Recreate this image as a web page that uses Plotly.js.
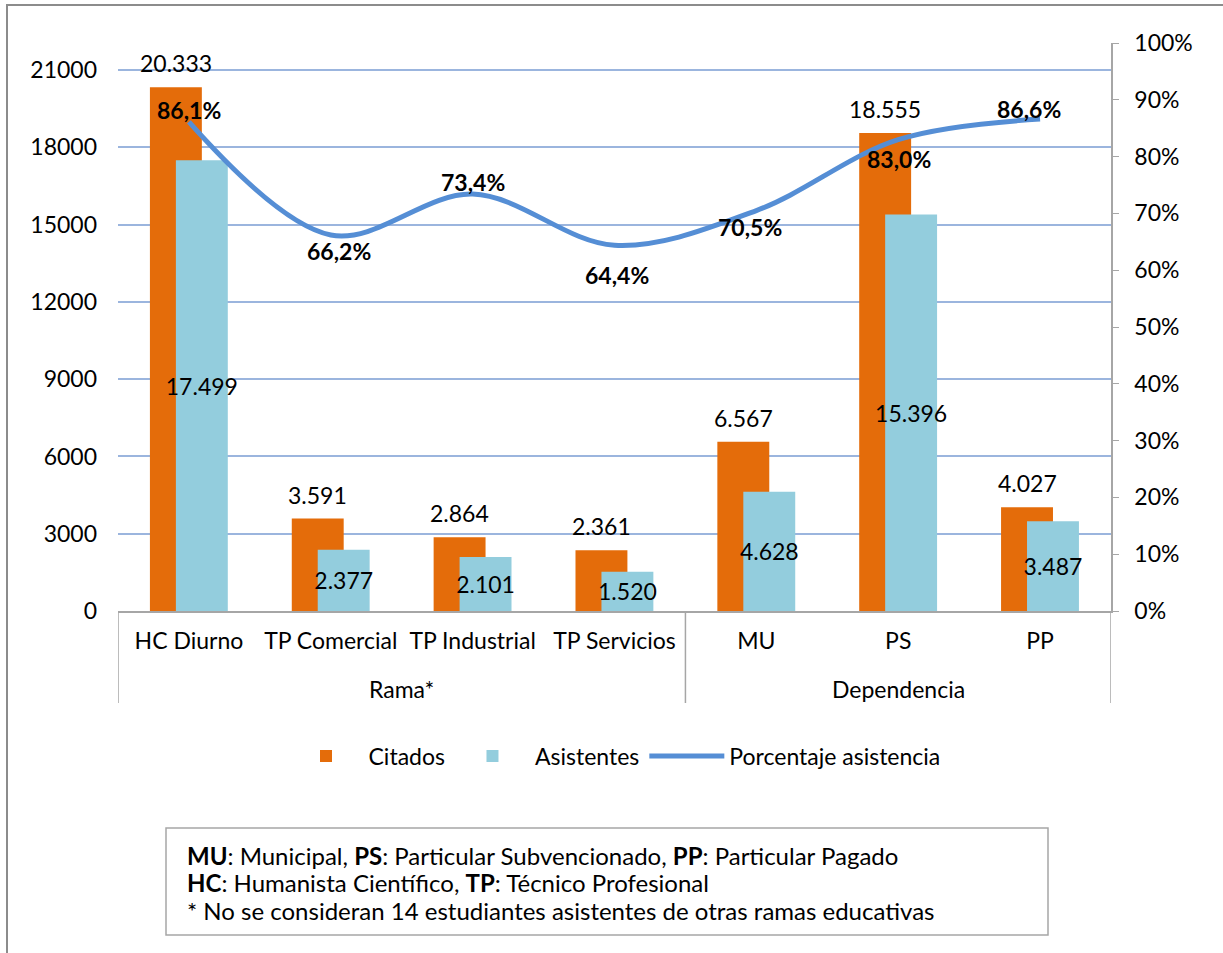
<!DOCTYPE html>
<html>
<head>
<meta charset="utf-8">
<script src="https://cdn.plot.ly/plotly-3.0.1.min.js"></script>
<style>
  html, body { margin: 0; padding: 0; background: #fff; }
  #chart { width: 1223px; height: 953px; }
</style>
</head>
<body>
<div id="chart"></div>
<script>
const categories = ['HC Diurno', 'TP Comercial', 'TP Industrial', 'TP Servicios', 'MU', 'PS', 'PP'];
const groups = ['Rama*', 'Dependencia'];
const citados = [20333, 3591, 2864, 2361, 6567, 18555, 4027];
const asistentes = [17499, 2377, 2101, 1520, 4628, 15396, 3487];
const porcentaje = [0.861, 0.662, 0.734, 0.644, 0.705, 0.830, 0.866];
const leftTicks = [0, 3000, 6000, 9000, 12000, 15000, 18000, 21000];
const notes = [
    '<b>MU</b>: Municipal, <b>PS</b>: Particular Subvencionado, <b>PP</b>: Particular Pagado',
    '<b>HC</b>: Humanista Científico, <b>TP</b>: Técnico Profesional',
    '* No se consideran 14 estudiantes asistentes de otras ramas educativas'
];

// label placement for the percentage labels (pixels, above > 0)
const pctShiftY = [12, -16, 12, -30, -16, -19, 10];
const pctShiftX = [0, 8, 0, 2, -6, 1, -11];

const fontFamily = 'Lato, "Open Sans", sans-serif';
const fs = 23;

// numbers like 20.333 (dot as thousands separator)
function fmtThousands(v) {
    return v.toString().replace(/\B(?=(\d{3})+(?!\d))/g, '.');
}
function fmtPct(v) {
    return (v * 100).toFixed(1).replace('.', ',') + '%';
}

// pixel -> paper helpers (plot area 118..1111 x 43..611)
const px = x => (x - 118) / 993;
const py = y => (611 - y) / 568;

const citadosTrace = {
    x: categories,
    y: citados,
    type: 'bar',
    name: 'Citados',
    width: 0.366,
    offset: -0.275,
    marker: { color: '#E46C0A' },
    hoverinfo: 'y'
};

const asistentesTrace = {
    x: categories,
    y: asistentes,
    type: 'bar',
    name: 'Asistentes',
    width: 0.366,
    offset: -0.092,
    marker: { color: '#93CDDD' },
    text: asistentes.map(fmtThousands),
    textposition: 'inside',
    insidetextanchor: 'middle',
    constraintext: 'none',
    textangle: 0,
    textfont: { color: '#000', size: fs, family: fontFamily },
    cliponaxis: false,
    hoverinfo: 'y'
};

const pctTrace = {
    x: categories,
    y: porcentaje,
    yaxis: 'y2',
    type: 'scatter',
    mode: 'lines',
    name: 'Porcentaje asistencia',
    line: { color: '#558ED5', width: 5, shape: 'spline', smoothing: 1 },
    cliponaxis: false
};

// value labels above the orange bars
const citadosLabels = categories.map((c, i) => ({
    x: c, y: citados[i], xref: 'x', yref: 'y',
    text: fmtThousands(citados[i]),
    showarrow: false, xshift: -13, yshift: 24, yanchor: 'middle',
    font: { size: fs, color: '#000', family: fontFamily }
}));

const pctLabels = categories.map((c, i) => ({
    x: c, y: porcentaje[i], xref: 'x', yref: 'y2',
    text: '<b>' + fmtPct(porcentaje[i]) + '</b>',
    showarrow: false, xshift: pctShiftX[i], yshift: pctShiftY[i], yanchor: 'middle',
    font: { size: fs, color: '#000', family: fontFamily }
}));

const groupLabels = [
    { x: 1.5, text: groups[0] },
    { x: 5, text: groups[1] }
].map(g => ({
    x: g.x, y: py(689), xref: 'x', yref: 'paper', text: g.text,
    showarrow: false, yanchor: 'middle',
    font: { size: fs, color: '#000', family: fontFamily }
}));

const noteLabels = notes.map((t, i) => ({
    x: px(185), y: py(855 + i * 27.5), xref: 'paper', yref: 'paper',
    text: t, align: 'left', xanchor: 'left', yanchor: 'middle',
    showarrow: false,
    font: { size: 24, color: '#000', family: fontFamily }
}));

const dividerShapes = [-0.5, 3.5, 6.5].map(x => ({
    type: 'line', xref: 'x', yref: 'paper',
    x0: x, x1: x, y0: 0, y1: py(703),
    line: { color: '#A6A6A6', width: 1.5 }
}));

const layout = {
    width: 1223,
    height: 953,
    margin: { l: 118, r: 112, t: 43, b: 342 },
    paper_bgcolor: '#fff',
    plot_bgcolor: '#fff',
    font: { family: fontFamily, size: fs, color: '#000' },
    barmode: 'overlay',
    showlegend: true,
    legend: {
        orientation: 'h',
        x: 0.5, xanchor: 'center',
        y: py(756), yanchor: 'middle',
        font: { size: fs, family: fontFamily },
        itemwidth: 75
    },
    xaxis: {
        type: 'category',
        showgrid: false,
        showline: true,
        linecolor: '#A6A6A6',
        linewidth: 1.5,
        ticks: '',
        ticklabelstandoff: 9,
        tickfont: { size: fs },
        range: [-0.5, 6.5],
        fixedrange: true
    },
    yaxis: {
        range: [0, 22050],
        tickvals: leftTicks,
        ticktext: leftTicks.map(String),
        showline: false,
        ticks: '',
        gridcolor: '#9BB5DE',
        gridwidth: 1.5,
        zeroline: false,
        ticklabelstandoff: 20,
        tickfont: { size: fs }
    },
    yaxis2: {
        overlaying: 'y',
        side: 'right',
        range: [0, 1],
        dtick: 0.1,
        tickformat: '.0%',
        showgrid: false,
        zeroline: false,
        showline: true,
        linecolor: '#A6A6A6',
        linewidth: 1.5,
        ticks: 'outside',
        ticklen: 6,
        tickcolor: '#A6A6A6',
        ticklabelstandoff: 11,
        tickfont: { size: fs }
    },
    shapes: [
        {
            type: 'rect', xref: 'paper', yref: 'paper',
            x0: px(7), x1: px(1240), y0: py(970), y1: py(5),
            line: { color: '#8C8C8C', width: 2 }
        },
        {
            type: 'rect', xref: 'paper', yref: 'paper',
            x0: px(166), x1: px(1048), y0: py(935), y1: py(828),
            line: { color: '#A6A6A6', width: 1.5 }
        }
    ].concat(dividerShapes),
    annotations: citadosLabels.concat(pctLabels, groupLabels, noteLabels)
};

Plotly.newPlot('chart', [citadosTrace, asistentesTrace, pctTrace], layout, { displayModeBar: false, responsive: false });
</script>
</body>
</html>
